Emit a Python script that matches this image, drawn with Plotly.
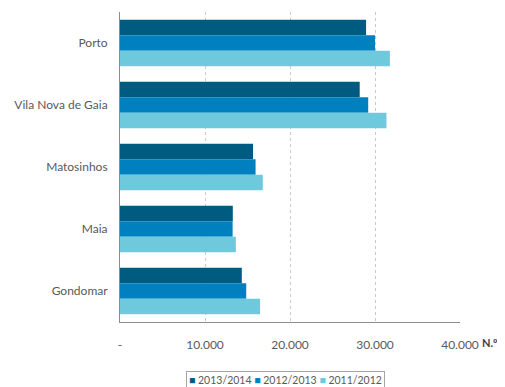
import plotly.graph_objects as go

categories = ["Porto", "Vila Nova de Gaia", "Matosinhos", "Maia", "Gondomar"]
series_names = ["2013/2014", "2012/2013", "2011/2012"]
v_2013_2014 = [28950, 28200, 15650, 13270, 14330]
v_2012_2013 = [30000, 29200, 15950, 13250, 14850]
v_2011_2012 = [31750, 31350, 16800, 13630, 16480]
tick_vals = [0, 10000, 20000, 30000, 40000]
tick_text = ["-", "10.000", "20.000", "30.000", "40.000"]
colors = ["#005B80", "#0080BF", "#6FC9DD"]

FONT = "Lato, 'Open Sans', sans-serif"
GREY = "#595959"

fig = go.Figure()
for name, vals, col in zip(series_names, [v_2013_2014, v_2012_2013, v_2011_2012], colors):
    fig.add_trace(go.Bar(
        y=categories, x=vals, name=name, orientation="h",
        marker=dict(color=col, line=dict(width=0)),
        showlegend=False,
    ))

legend_text = "&nbsp;".join(
    f"<span style='color:{c}'>■</span> {n}" for n, c in zip(series_names, colors)
)

# page body has an 8px margin, so the figure is 8px smaller and everything shifted by 8px
fig.update_layout(
    width=497, height=379,
    margin=dict(l=112, r=45, t=4, b=65),
    paper_bgcolor="white", plot_bgcolor="white",
    barmode="group", bargap=0.25, bargroupgap=0,
    font=dict(family=FONT, color=GREY, size=11),
    xaxis=dict(
        range=[0, 40000], tickvals=tick_vals, ticktext=tick_text,
        showgrid=True, gridcolor="#C8C8C8", griddash="dot", gridwidth=1,
        showline=True, linecolor="#8C8C8C", linewidth=1,
        zeroline=False, ticks="", ticklabelstandoff=12, automargin=False,
        tickfont=dict(size=12, color=GREY),
    ),
    yaxis=dict(
        autorange="reversed", showgrid=False,
        showline=True, linecolor="#8C8C8C", linewidth=1,
        ticks="", ticklabelstandoff=9, automargin=False,
        tickfont=dict(size=12, color=GREY),
    ),
    annotations=[
        dict(text="<b>N.º</b>", xref="paper", yref="paper", x=(490 - 120) / 340, y=(322 - 342) / 310,
             showarrow=False, font=dict(size=11, color="#404040"), xanchor="center", yanchor="middle"),
        dict(text=legend_text, xref="paper", yref="paper", x=(285 - 120) / 340, y=(322 - 380) / 310,
             showarrow=False, font=dict(size=10.5, color=GREY), xanchor="center", yanchor="middle",
             bordercolor="#A6A6A6", borderwidth=1, borderpad=2),
    ],
)

fig.write_html("out.html")
